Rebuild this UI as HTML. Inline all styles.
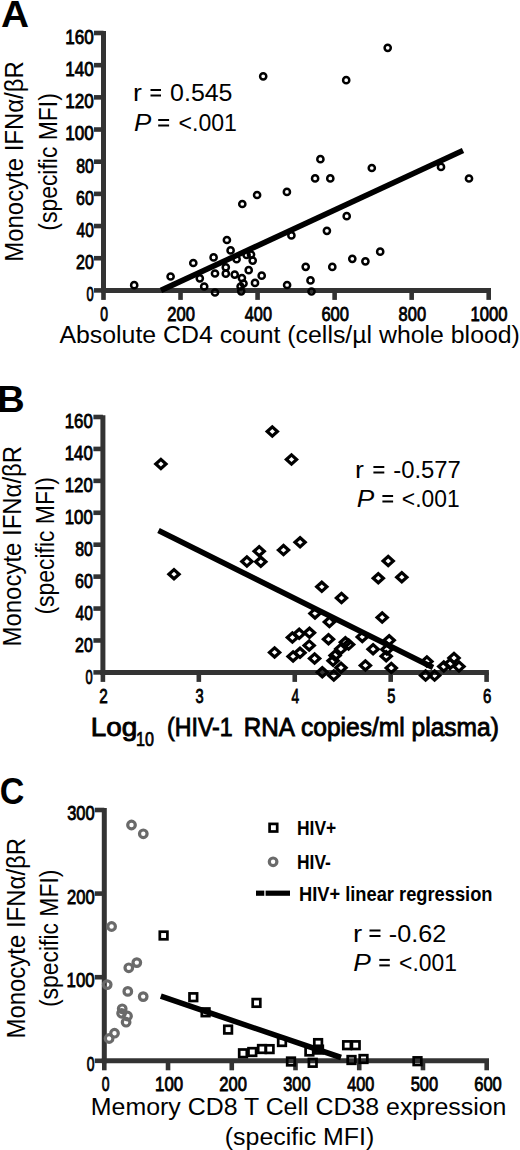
<!DOCTYPE html>
<html><head><meta charset="utf-8"><style>
html,body{margin:0;padding:0;background:#fff;}
svg{display:block;font-family:"Liberation Sans",sans-serif;}
</style></head><body>
<svg width="520" height="1150" viewBox="0 0 520 1150">
<rect width="520" height="1150" fill="#fff"/>
<text x="1.03" y="26.50" font-size="37" font-weight="bold" textLength="28.03" lengthAdjust="spacingAndGlyphs" fill="#000">A</text>
<line x1="103.50" y1="31.00" x2="103.50" y2="292.90" stroke="#333" stroke-width="5" stroke-linecap="butt"/>
<line x1="101.00" y1="290.40" x2="491.00" y2="290.40" stroke="#333" stroke-width="5" stroke-linecap="butt"/>
<line x1="94.00" y1="290.40" x2="103.50" y2="290.40" stroke="#333" stroke-width="4.6" stroke-linecap="butt"/>
<line x1="94.00" y1="258.22" x2="103.50" y2="258.22" stroke="#333" stroke-width="4.6" stroke-linecap="butt"/>
<line x1="94.00" y1="226.05" x2="103.50" y2="226.05" stroke="#333" stroke-width="4.6" stroke-linecap="butt"/>
<line x1="94.00" y1="193.88" x2="103.50" y2="193.88" stroke="#333" stroke-width="4.6" stroke-linecap="butt"/>
<line x1="94.00" y1="161.70" x2="103.50" y2="161.70" stroke="#333" stroke-width="4.6" stroke-linecap="butt"/>
<line x1="94.00" y1="129.52" x2="103.50" y2="129.52" stroke="#333" stroke-width="4.6" stroke-linecap="butt"/>
<line x1="94.00" y1="97.35" x2="103.50" y2="97.35" stroke="#333" stroke-width="4.6" stroke-linecap="butt"/>
<line x1="94.00" y1="65.18" x2="103.50" y2="65.18" stroke="#333" stroke-width="4.6" stroke-linecap="butt"/>
<line x1="94.00" y1="33.00" x2="103.50" y2="33.00" stroke="#333" stroke-width="4.6" stroke-linecap="butt"/>
<line x1="103.50" y1="290.40" x2="103.50" y2="299.90" stroke="#333" stroke-width="4.6" stroke-linecap="butt"/>
<line x1="180.54" y1="290.40" x2="180.54" y2="299.90" stroke="#333" stroke-width="4.6" stroke-linecap="butt"/>
<line x1="257.58" y1="290.40" x2="257.58" y2="299.90" stroke="#333" stroke-width="4.6" stroke-linecap="butt"/>
<line x1="334.62" y1="290.40" x2="334.62" y2="299.90" stroke="#333" stroke-width="4.6" stroke-linecap="butt"/>
<line x1="411.66" y1="290.40" x2="411.66" y2="299.90" stroke="#333" stroke-width="4.6" stroke-linecap="butt"/>
<line x1="488.70" y1="290.40" x2="488.70" y2="299.90" stroke="#333" stroke-width="4.6" stroke-linecap="butt"/>
<text x="86.51" y="301.20" font-size="20.5" stroke="#000" stroke-width="0.85" textLength="7.16" lengthAdjust="spacingAndGlyphs" fill="#000">0</text>
<text x="76.03" y="269.02" font-size="20.5" stroke="#000" stroke-width="0.85" textLength="17.79" lengthAdjust="spacingAndGlyphs" fill="#000">20</text>
<text x="76.47" y="236.85" font-size="20.5" stroke="#000" stroke-width="0.85" textLength="17.32" lengthAdjust="spacingAndGlyphs" fill="#000">40</text>
<text x="76.03" y="204.67" font-size="20.5" stroke="#000" stroke-width="0.85" textLength="17.79" lengthAdjust="spacingAndGlyphs" fill="#000">60</text>
<text x="76.15" y="172.50" font-size="20.5" stroke="#000" stroke-width="0.85" textLength="17.66" lengthAdjust="spacingAndGlyphs" fill="#000">80</text>
<text x="65.34" y="140.32" font-size="20.5" stroke="#000" stroke-width="0.85" textLength="28.49" lengthAdjust="spacingAndGlyphs" fill="#000">100</text>
<text x="65.34" y="108.15" font-size="20.5" stroke="#000" stroke-width="0.85" textLength="28.49" lengthAdjust="spacingAndGlyphs" fill="#000">120</text>
<text x="65.34" y="75.98" font-size="20.5" stroke="#000" stroke-width="0.85" textLength="28.49" lengthAdjust="spacingAndGlyphs" fill="#000">140</text>
<text x="65.34" y="43.80" font-size="20.5" stroke="#000" stroke-width="0.85" textLength="28.49" lengthAdjust="spacingAndGlyphs" fill="#000">160</text>
<text x="100.32" y="321.00" font-size="20.5" stroke="#000" stroke-width="0.85" textLength="7.75" lengthAdjust="spacingAndGlyphs" fill="#000">0</text>
<text x="167.34" y="321.00" font-size="20.5" stroke="#000" stroke-width="0.85" textLength="27.61" lengthAdjust="spacingAndGlyphs" fill="#000">200</text>
<text x="244.84" y="321.00" font-size="20.5" stroke="#000" stroke-width="0.85" textLength="27.14" lengthAdjust="spacingAndGlyphs" fill="#000">400</text>
<text x="321.42" y="321.00" font-size="20.5" stroke="#000" stroke-width="0.85" textLength="27.61" lengthAdjust="spacingAndGlyphs" fill="#000">600</text>
<text x="398.58" y="321.00" font-size="20.5" stroke="#000" stroke-width="0.85" textLength="27.48" lengthAdjust="spacingAndGlyphs" fill="#000">800</text>
<text x="470.58" y="321.00" font-size="20.5" stroke="#000" stroke-width="0.85" textLength="37.06" lengthAdjust="spacingAndGlyphs" fill="#000">1000</text>
<text x="59.44" y="342.80" font-size="24.6" textLength="460.43" lengthAdjust="spacingAndGlyphs" fill="#000">Absolute CD4 count (cells/µl whole blood)</text>
<text transform="translate(23.10,259.80) rotate(-90)" x="-1.98" y="0" font-size="26" textLength="200.62" lengthAdjust="spacingAndGlyphs">Monocyte IFNα/βR</text>
<text transform="translate(56.60,229.30) rotate(-90)" x="-1.43" y="0" font-size="26" textLength="137.57" lengthAdjust="spacingAndGlyphs">(specific MFI)</text>
<text x="132.99" y="101.00" font-size="24" textLength="8.92" lengthAdjust="spacingAndGlyphs" fill="#000">r</text>
<rect x="150.50" y="89.00" width="10.50" height="2" fill="#000"/>
<rect x="150.50" y="94.50" width="10.50" height="2" fill="#000"/>
<text x="170.10" y="101.00" font-size="24" textLength="62.40" lengthAdjust="spacingAndGlyphs" fill="#000">0.545</text>
<text x="133.92" y="131.00" font-size="24" font-style="italic" textLength="17.26" lengthAdjust="spacingAndGlyphs" fill="#000">P</text>
<rect x="158.20" y="119.00" width="10.90" height="2" fill="#000"/>
<rect x="158.20" y="124.50" width="10.90" height="2" fill="#000"/>
<text x="178.55" y="131.00" font-size="24" textLength="58.36" lengthAdjust="spacingAndGlyphs" fill="#000">&lt;.001</text>
<line x1="161.00" y1="290.40" x2="463.00" y2="150.50" stroke="#000" stroke-width="5.6" stroke-linecap="butt"/>
<circle cx="134.2" cy="285.2" r="3.1" fill="none" stroke="#000" stroke-width="2.5"/>
<circle cx="170.6" cy="276.5" r="3.1" fill="none" stroke="#000" stroke-width="2.5"/>
<circle cx="193.3" cy="263.0" r="3.1" fill="none" stroke="#000" stroke-width="2.5"/>
<circle cx="199.8" cy="278.3" r="3.1" fill="none" stroke="#000" stroke-width="2.5"/>
<circle cx="204.2" cy="286.5" r="3.1" fill="none" stroke="#000" stroke-width="2.5"/>
<circle cx="215" cy="292.5" r="3.1" fill="none" stroke="#000" stroke-width="2.5"/>
<circle cx="213.6" cy="257.4" r="3.1" fill="none" stroke="#000" stroke-width="2.5"/>
<circle cx="215" cy="273.5" r="3.1" fill="none" stroke="#000" stroke-width="2.5"/>
<circle cx="226.9" cy="240.0" r="3.1" fill="none" stroke="#000" stroke-width="2.5"/>
<circle cx="230.6" cy="250.4" r="3.1" fill="none" stroke="#000" stroke-width="2.5"/>
<circle cx="225.8" cy="267.3" r="3.1" fill="none" stroke="#000" stroke-width="2.5"/>
<circle cx="225.8" cy="273.7" r="3.1" fill="none" stroke="#000" stroke-width="2.5"/>
<circle cx="234.7" cy="274.6" r="3.1" fill="none" stroke="#000" stroke-width="2.5"/>
<circle cx="236.6" cy="259.2" r="3.1" fill="none" stroke="#000" stroke-width="2.5"/>
<circle cx="246.6" cy="255.0" r="3.1" fill="none" stroke="#000" stroke-width="2.5"/>
<circle cx="251" cy="254.5" r="3.1" fill="none" stroke="#000" stroke-width="2.5"/>
<circle cx="252.7" cy="260.6" r="3.1" fill="none" stroke="#000" stroke-width="2.5"/>
<circle cx="248.7" cy="270.2" r="3.1" fill="none" stroke="#000" stroke-width="2.5"/>
<circle cx="241.9" cy="278.1" r="3.1" fill="none" stroke="#000" stroke-width="2.5"/>
<circle cx="243.5" cy="283.5" r="3.1" fill="none" stroke="#000" stroke-width="2.5"/>
<circle cx="240.6" cy="286.5" r="3.1" fill="none" stroke="#000" stroke-width="2.5"/>
<circle cx="241.2" cy="291.3" r="3.1" fill="none" stroke="#000" stroke-width="2.5"/>
<circle cx="255" cy="282.9" r="3.1" fill="none" stroke="#000" stroke-width="2.5"/>
<circle cx="261.7" cy="275.7" r="3.1" fill="none" stroke="#000" stroke-width="2.5"/>
<circle cx="242.3" cy="204" r="3.1" fill="none" stroke="#000" stroke-width="2.5"/>
<circle cx="257.1" cy="195" r="3.1" fill="none" stroke="#000" stroke-width="2.5"/>
<circle cx="286.9" cy="191.9" r="3.1" fill="none" stroke="#000" stroke-width="2.5"/>
<circle cx="291.4" cy="235.4" r="3.1" fill="none" stroke="#000" stroke-width="2.5"/>
<circle cx="287.1" cy="285" r="3.1" fill="none" stroke="#000" stroke-width="2.5"/>
<circle cx="305.7" cy="266.8" r="3.1" fill="none" stroke="#000" stroke-width="2.5"/>
<circle cx="310.5" cy="280.4" r="3.1" fill="none" stroke="#000" stroke-width="2.5"/>
<circle cx="311.5" cy="291.5" r="3.1" fill="none" stroke="#000" stroke-width="2.5"/>
<circle cx="332.3" cy="266.9" r="3.1" fill="none" stroke="#000" stroke-width="2.5"/>
<circle cx="326.9" cy="230.8" r="3.1" fill="none" stroke="#000" stroke-width="2.5"/>
<circle cx="346.7" cy="216.2" r="3.1" fill="none" stroke="#000" stroke-width="2.5"/>
<circle cx="352.3" cy="258.8" r="3.1" fill="none" stroke="#000" stroke-width="2.5"/>
<circle cx="365.4" cy="261.3" r="3.1" fill="none" stroke="#000" stroke-width="2.5"/>
<circle cx="380.2" cy="251.7" r="3.1" fill="none" stroke="#000" stroke-width="2.5"/>
<circle cx="315.1" cy="178.4" r="3.1" fill="none" stroke="#000" stroke-width="2.5"/>
<circle cx="330.3" cy="178.4" r="3.1" fill="none" stroke="#000" stroke-width="2.5"/>
<circle cx="320.4" cy="159.2" r="3.1" fill="none" stroke="#000" stroke-width="2.5"/>
<circle cx="371.8" cy="168" r="3.1" fill="none" stroke="#000" stroke-width="2.5"/>
<circle cx="441" cy="166.9" r="3.1" fill="none" stroke="#000" stroke-width="2.5"/>
<circle cx="469" cy="178.5" r="3.1" fill="none" stroke="#000" stroke-width="2.5"/>
<circle cx="263.2" cy="76.3" r="3.1" fill="none" stroke="#000" stroke-width="2.5"/>
<circle cx="346.2" cy="80.2" r="3.1" fill="none" stroke="#000" stroke-width="2.5"/>
<circle cx="387.7" cy="47.8" r="3.1" fill="none" stroke="#000" stroke-width="2.5"/>
<text x="-2.99" y="412.30" font-size="37" font-weight="bold" textLength="27.70" lengthAdjust="spacingAndGlyphs" fill="#000">B</text>
<line x1="102.90" y1="415.30" x2="102.90" y2="674.90" stroke="#333" stroke-width="5" stroke-linecap="butt"/>
<line x1="100.40" y1="672.40" x2="488.90" y2="672.40" stroke="#333" stroke-width="5" stroke-linecap="butt"/>
<line x1="93.40" y1="672.40" x2="102.90" y2="672.40" stroke="#333" stroke-width="4.6" stroke-linecap="butt"/>
<line x1="93.40" y1="640.48" x2="102.90" y2="640.48" stroke="#333" stroke-width="4.6" stroke-linecap="butt"/>
<line x1="93.40" y1="608.55" x2="102.90" y2="608.55" stroke="#333" stroke-width="4.6" stroke-linecap="butt"/>
<line x1="93.40" y1="576.62" x2="102.90" y2="576.62" stroke="#333" stroke-width="4.6" stroke-linecap="butt"/>
<line x1="93.40" y1="544.70" x2="102.90" y2="544.70" stroke="#333" stroke-width="4.6" stroke-linecap="butt"/>
<line x1="93.40" y1="512.77" x2="102.90" y2="512.77" stroke="#333" stroke-width="4.6" stroke-linecap="butt"/>
<line x1="93.40" y1="480.85" x2="102.90" y2="480.85" stroke="#333" stroke-width="4.6" stroke-linecap="butt"/>
<line x1="93.40" y1="448.93" x2="102.90" y2="448.93" stroke="#333" stroke-width="4.6" stroke-linecap="butt"/>
<line x1="93.40" y1="417.00" x2="102.90" y2="417.00" stroke="#333" stroke-width="4.6" stroke-linecap="butt"/>
<line x1="102.90" y1="672.40" x2="102.90" y2="681.90" stroke="#333" stroke-width="4.6" stroke-linecap="butt"/>
<line x1="198.83" y1="672.40" x2="198.83" y2="681.90" stroke="#333" stroke-width="4.6" stroke-linecap="butt"/>
<line x1="294.75" y1="672.40" x2="294.75" y2="681.90" stroke="#333" stroke-width="4.6" stroke-linecap="butt"/>
<line x1="390.68" y1="672.40" x2="390.68" y2="681.90" stroke="#333" stroke-width="4.6" stroke-linecap="butt"/>
<line x1="486.60" y1="672.40" x2="486.60" y2="681.90" stroke="#333" stroke-width="4.6" stroke-linecap="butt"/>
<text x="85.51" y="683.70" font-size="20.5" stroke="#000" stroke-width="0.85" textLength="7.16" lengthAdjust="spacingAndGlyphs" fill="#000">0</text>
<text x="75.03" y="651.78" font-size="20.5" stroke="#000" stroke-width="0.85" textLength="17.79" lengthAdjust="spacingAndGlyphs" fill="#000">20</text>
<text x="75.47" y="619.85" font-size="20.5" stroke="#000" stroke-width="0.85" textLength="17.32" lengthAdjust="spacingAndGlyphs" fill="#000">40</text>
<text x="75.03" y="587.93" font-size="20.5" stroke="#000" stroke-width="0.85" textLength="17.79" lengthAdjust="spacingAndGlyphs" fill="#000">60</text>
<text x="75.15" y="556.00" font-size="20.5" stroke="#000" stroke-width="0.85" textLength="17.66" lengthAdjust="spacingAndGlyphs" fill="#000">80</text>
<text x="64.76" y="524.08" font-size="20.5" stroke="#000" stroke-width="0.85" textLength="28.06" lengthAdjust="spacingAndGlyphs" fill="#000">100</text>
<text x="64.76" y="492.15" font-size="20.5" stroke="#000" stroke-width="0.85" textLength="28.06" lengthAdjust="spacingAndGlyphs" fill="#000">120</text>
<text x="64.76" y="460.23" font-size="20.5" stroke="#000" stroke-width="0.85" textLength="28.06" lengthAdjust="spacingAndGlyphs" fill="#000">140</text>
<text x="64.76" y="428.30" font-size="20.5" stroke="#000" stroke-width="0.85" textLength="28.06" lengthAdjust="spacingAndGlyphs" fill="#000">160</text>
<text x="99.26" y="702.60" font-size="20.5" stroke="#000" stroke-width="0.85" textLength="8.50" lengthAdjust="spacingAndGlyphs" fill="#000">2</text>
<text x="195.40" y="702.60" font-size="20.5" stroke="#000" stroke-width="0.85" textLength="8.14" lengthAdjust="spacingAndGlyphs" fill="#000">3</text>
<text x="291.57" y="702.60" font-size="20.5" stroke="#000" stroke-width="0.85" textLength="7.65" lengthAdjust="spacingAndGlyphs" fill="#000">4</text>
<text x="387.21" y="702.60" font-size="20.5" stroke="#000" stroke-width="0.85" textLength="8.14" lengthAdjust="spacingAndGlyphs" fill="#000">5</text>
<text x="482.97" y="702.60" font-size="20.5" stroke="#000" stroke-width="0.85" textLength="8.36" lengthAdjust="spacingAndGlyphs" fill="#000">6</text>
<text x="90.82" y="736.30" font-size="25.5" stroke="#000" stroke-width="0.85" textLength="46.52" lengthAdjust="spacingAndGlyphs" fill="#000">Log</text>
<text x="135.94" y="746.20" font-size="19.5" stroke="#000" stroke-width="0.7" textLength="17.95" lengthAdjust="spacingAndGlyphs" fill="#000">10</text>
<text x="166.98" y="736.40" font-size="25.5" stroke="#000" stroke-width="0.85" textLength="65.74" lengthAdjust="spacingAndGlyphs" fill="#000">(HIV-1</text>
<text x="243.63" y="736.40" font-size="25.5" stroke="#000" stroke-width="0.85" textLength="51.18" lengthAdjust="spacingAndGlyphs" fill="#000">RNA</text>
<text x="300.98" y="736.40" font-size="25.5" stroke="#000" stroke-width="0.85" textLength="197.95" lengthAdjust="spacingAndGlyphs" fill="#000">copies/ml plasma)</text>
<text transform="translate(20.60,644.50) rotate(-90)" x="-1.98" y="0" font-size="26" textLength="200.62" lengthAdjust="spacingAndGlyphs">Monocyte IFNα/βR</text>
<text transform="translate(53.90,613.10) rotate(-90)" x="-1.43" y="0" font-size="26" textLength="137.37" lengthAdjust="spacingAndGlyphs">(specific MFI)</text>
<text x="355.09" y="478.00" font-size="24" textLength="8.92" lengthAdjust="spacingAndGlyphs" fill="#000">r</text>
<rect x="373.40" y="466.00" width="10.90" height="2" fill="#000"/>
<rect x="373.40" y="471.50" width="10.90" height="2" fill="#000"/>
<text x="393.23" y="478.00" font-size="24" textLength="67.58" lengthAdjust="spacingAndGlyphs" fill="#000">-0.577</text>
<text x="356.71" y="507.00" font-size="24" font-style="italic" textLength="17.47" lengthAdjust="spacingAndGlyphs" fill="#000">P</text>
<rect x="382.40" y="495.00" width="10.70" height="2" fill="#000"/>
<rect x="382.40" y="500.50" width="10.70" height="2" fill="#000"/>
<text x="401.86" y="507.00" font-size="24" textLength="57.73" lengthAdjust="spacingAndGlyphs" fill="#000">&lt;.001</text>
<line x1="158.50" y1="530.50" x2="433.00" y2="667.50" stroke="#000" stroke-width="5.6" stroke-linecap="butt"/>
<path d="M155.80 464L160.9 459.40L166.00 464L160.9 468.60Z" fill="none" stroke="#000" stroke-width="3.2" stroke-linejoin="miter"/>
<path d="M267.20 431.5L272.3 426.90L277.40 431.5L272.3 436.10Z" fill="none" stroke="#000" stroke-width="3.2" stroke-linejoin="miter"/>
<path d="M286.40 459.5L291.5 454.90L296.60 459.5L291.5 464.10Z" fill="none" stroke="#000" stroke-width="3.2" stroke-linejoin="miter"/>
<path d="M168.90 574.2L174 569.60L179.10 574.2L174 578.80Z" fill="none" stroke="#000" stroke-width="3.2" stroke-linejoin="miter"/>
<path d="M241.80 561.5L246.9 556.90L252.00 561.5L246.9 566.10Z" fill="none" stroke="#000" stroke-width="3.2" stroke-linejoin="miter"/>
<path d="M254.10 551.2L259.2 546.60L264.30 551.2L259.2 555.80Z" fill="none" stroke="#000" stroke-width="3.2" stroke-linejoin="miter"/>
<path d="M255.70 561.8L260.8 557.20L265.90 561.8L260.8 566.40Z" fill="none" stroke="#000" stroke-width="3.2" stroke-linejoin="miter"/>
<path d="M278.40 550.1L283.5 545.50L288.60 550.1L283.5 554.70Z" fill="none" stroke="#000" stroke-width="3.2" stroke-linejoin="miter"/>
<path d="M295.00 542.3L300.1 537.70L305.20 542.3L300.1 546.90Z" fill="none" stroke="#000" stroke-width="3.2" stroke-linejoin="miter"/>
<path d="M316.70 586.8L321.8 582.20L326.90 586.8L321.8 591.40Z" fill="none" stroke="#000" stroke-width="3.2" stroke-linejoin="miter"/>
<path d="M336.40 598L341.5 593.40L346.60 598L341.5 602.60Z" fill="none" stroke="#000" stroke-width="3.2" stroke-linejoin="miter"/>
<path d="M383.10 561L388.2 556.40L393.30 561L388.2 565.60Z" fill="none" stroke="#000" stroke-width="3.2" stroke-linejoin="miter"/>
<path d="M373.20 578.2L378.3 573.60L383.40 578.2L378.3 582.80Z" fill="none" stroke="#000" stroke-width="3.2" stroke-linejoin="miter"/>
<path d="M396.70 577.2L401.8 572.60L406.90 577.2L401.8 581.80Z" fill="none" stroke="#000" stroke-width="3.2" stroke-linejoin="miter"/>
<path d="M309.90 613.4L315 608.80L320.10 613.4L315 618.00Z" fill="none" stroke="#000" stroke-width="3.2" stroke-linejoin="miter"/>
<path d="M324.30 622L329.4 617.40L334.50 622L329.4 626.60Z" fill="none" stroke="#000" stroke-width="3.2" stroke-linejoin="miter"/>
<path d="M287.30 637.5L292.4 632.90L297.50 637.5L292.4 642.10Z" fill="none" stroke="#000" stroke-width="3.2" stroke-linejoin="miter"/>
<path d="M294.10 633.8L299.2 629.20L304.30 633.8L299.2 638.40Z" fill="none" stroke="#000" stroke-width="3.2" stroke-linejoin="miter"/>
<path d="M304.40 632.8L309.5 628.20L314.60 632.8L309.5 637.40Z" fill="none" stroke="#000" stroke-width="3.2" stroke-linejoin="miter"/>
<path d="M304.10 645.4L309.2 640.80L314.30 645.4L309.2 650.00Z" fill="none" stroke="#000" stroke-width="3.2" stroke-linejoin="miter"/>
<path d="M288.00 656.4L293.1 651.80L298.20 656.4L293.1 661.00Z" fill="none" stroke="#000" stroke-width="3.2" stroke-linejoin="miter"/>
<path d="M294.90 652.8L300 648.20L305.10 652.8L300 657.40Z" fill="none" stroke="#000" stroke-width="3.2" stroke-linejoin="miter"/>
<path d="M309.50 658.5L314.6 653.90L319.70 658.5L314.6 663.10Z" fill="none" stroke="#000" stroke-width="3.2" stroke-linejoin="miter"/>
<path d="M323.40 639.2L328.5 634.60L333.60 639.2L328.5 643.80Z" fill="none" stroke="#000" stroke-width="3.2" stroke-linejoin="miter"/>
<path d="M340.30 642.3L345.4 637.70L350.50 642.3L345.4 646.90Z" fill="none" stroke="#000" stroke-width="3.2" stroke-linejoin="miter"/>
<path d="M343.50 644.6L348.6 640.00L353.70 644.6L348.6 649.20Z" fill="none" stroke="#000" stroke-width="3.2" stroke-linejoin="miter"/>
<path d="M335.70 649L340.8 644.40L345.90 649L340.8 653.60Z" fill="none" stroke="#000" stroke-width="3.2" stroke-linejoin="miter"/>
<path d="M330.00 655.4L335.1 650.80L340.20 655.4L335.1 660.00Z" fill="none" stroke="#000" stroke-width="3.2" stroke-linejoin="miter"/>
<path d="M328.00 660.8L333.1 656.20L338.20 660.8L333.1 665.40Z" fill="none" stroke="#000" stroke-width="3.2" stroke-linejoin="miter"/>
<path d="M335.90 667.7L341 663.10L346.10 667.7L341 672.30Z" fill="none" stroke="#000" stroke-width="3.2" stroke-linejoin="miter"/>
<path d="M317.20 672.3L322.3 667.70L327.40 672.3L322.3 676.90Z" fill="none" stroke="#000" stroke-width="3.2" stroke-linejoin="miter"/>
<path d="M328.70 675.4L333.8 670.80L338.90 675.4L333.8 680.00Z" fill="none" stroke="#000" stroke-width="3.2" stroke-linejoin="miter"/>
<path d="M269.50 652.4L274.6 647.80L279.70 652.4L274.6 657.00Z" fill="none" stroke="#000" stroke-width="3.2" stroke-linejoin="miter"/>
<path d="M377.10 617.5L382.2 612.90L387.30 617.5L382.2 622.10Z" fill="none" stroke="#000" stroke-width="3.2" stroke-linejoin="miter"/>
<path d="M357.20 636.9L362.3 632.30L367.40 636.9L362.3 641.50Z" fill="none" stroke="#000" stroke-width="3.2" stroke-linejoin="miter"/>
<path d="M368.00 649.2L373.1 644.60L378.20 649.2L373.1 653.80Z" fill="none" stroke="#000" stroke-width="3.2" stroke-linejoin="miter"/>
<path d="M384.10 640.3L389.2 635.70L394.30 640.3L389.2 644.90Z" fill="none" stroke="#000" stroke-width="3.2" stroke-linejoin="miter"/>
<path d="M381.80 649.5L386.9 644.90L392.00 649.5L386.9 654.10Z" fill="none" stroke="#000" stroke-width="3.2" stroke-linejoin="miter"/>
<path d="M381.10 656.2L386.2 651.60L391.30 656.2L386.2 660.80Z" fill="none" stroke="#000" stroke-width="3.2" stroke-linejoin="miter"/>
<path d="M360.30 665.4L365.4 660.80L370.50 665.4L365.4 670.00Z" fill="none" stroke="#000" stroke-width="3.2" stroke-linejoin="miter"/>
<path d="M386.20 668L391.3 663.40L396.40 668L391.3 672.60Z" fill="none" stroke="#000" stroke-width="3.2" stroke-linejoin="miter"/>
<path d="M421.80 661.5L426.9 656.90L432.00 661.5L426.9 666.10Z" fill="none" stroke="#000" stroke-width="3.2" stroke-linejoin="miter"/>
<path d="M420.50 675.5L425.6 670.90L430.70 675.5L425.6 680.10Z" fill="none" stroke="#000" stroke-width="3.2" stroke-linejoin="miter"/>
<path d="M429.50 675.5L434.6 670.90L439.70 675.5L434.6 680.10Z" fill="none" stroke="#000" stroke-width="3.2" stroke-linejoin="miter"/>
<path d="M438.70 666.5L443.8 661.90L448.90 666.5L443.8 671.10Z" fill="none" stroke="#000" stroke-width="3.2" stroke-linejoin="miter"/>
<path d="M444.90 664L450 659.40L455.10 664L450 668.60Z" fill="none" stroke="#000" stroke-width="3.2" stroke-linejoin="miter"/>
<path d="M448.90 658L454 653.40L459.10 658L454 662.60Z" fill="none" stroke="#000" stroke-width="3.2" stroke-linejoin="miter"/>
<path d="M453.90 666.5L459 661.90L464.10 666.5L459 671.10Z" fill="none" stroke="#000" stroke-width="3.2" stroke-linejoin="miter"/>
<text x="-0.16" y="803.60" font-size="37" font-weight="bold" textLength="24.59" lengthAdjust="spacingAndGlyphs" fill="#000">C</text>
<line x1="104.30" y1="808.00" x2="104.30" y2="1063.30" stroke="#333" stroke-width="5" stroke-linecap="butt"/>
<line x1="101.80" y1="1060.80" x2="489.00" y2="1060.80" stroke="#333" stroke-width="5" stroke-linecap="butt"/>
<line x1="94.80" y1="1060.80" x2="104.30" y2="1060.80" stroke="#333" stroke-width="4.6" stroke-linecap="butt"/>
<line x1="94.80" y1="977.20" x2="104.30" y2="977.20" stroke="#333" stroke-width="4.6" stroke-linecap="butt"/>
<line x1="94.80" y1="893.60" x2="104.30" y2="893.60" stroke="#333" stroke-width="4.6" stroke-linecap="butt"/>
<line x1="94.80" y1="810.00" x2="104.30" y2="810.00" stroke="#333" stroke-width="4.6" stroke-linecap="butt"/>
<line x1="104.30" y1="1060.80" x2="104.30" y2="1070.30" stroke="#333" stroke-width="4.6" stroke-linecap="butt"/>
<line x1="168.03" y1="1060.80" x2="168.03" y2="1070.30" stroke="#333" stroke-width="4.6" stroke-linecap="butt"/>
<line x1="231.77" y1="1060.80" x2="231.77" y2="1070.30" stroke="#333" stroke-width="4.6" stroke-linecap="butt"/>
<line x1="295.50" y1="1060.80" x2="295.50" y2="1070.30" stroke="#333" stroke-width="4.6" stroke-linecap="butt"/>
<line x1="359.23" y1="1060.80" x2="359.23" y2="1070.30" stroke="#333" stroke-width="4.6" stroke-linecap="butt"/>
<line x1="422.97" y1="1060.80" x2="422.97" y2="1070.30" stroke="#333" stroke-width="4.6" stroke-linecap="butt"/>
<line x1="486.70" y1="1060.80" x2="486.70" y2="1070.30" stroke="#333" stroke-width="4.6" stroke-linecap="butt"/>
<text x="86.77" y="1070.90" font-size="20.5" stroke="#000" stroke-width="0.85" textLength="7.75" lengthAdjust="spacingAndGlyphs" fill="#000">0</text>
<text x="66.56" y="987.30" font-size="20.5" stroke="#000" stroke-width="0.85" textLength="28.06" lengthAdjust="spacingAndGlyphs" fill="#000">100</text>
<text x="67.00" y="903.70" font-size="20.5" stroke="#000" stroke-width="0.85" textLength="27.61" lengthAdjust="spacingAndGlyphs" fill="#000">200</text>
<text x="67.21" y="820.10" font-size="20.5" stroke="#000" stroke-width="0.85" textLength="27.40" lengthAdjust="spacingAndGlyphs" fill="#000">300</text>
<text x="101.82" y="1090.50" font-size="20.5" stroke="#000" stroke-width="0.85" textLength="7.75" lengthAdjust="spacingAndGlyphs" fill="#000">0</text>
<text x="155.10" y="1090.50" font-size="20.5" stroke="#000" stroke-width="0.85" textLength="28.06" lengthAdjust="spacingAndGlyphs" fill="#000">100</text>
<text x="219.26" y="1090.50" font-size="20.5" stroke="#000" stroke-width="0.85" textLength="27.61" lengthAdjust="spacingAndGlyphs" fill="#000">200</text>
<text x="283.21" y="1090.50" font-size="20.5" stroke="#000" stroke-width="0.85" textLength="27.40" lengthAdjust="spacingAndGlyphs" fill="#000">300</text>
<text x="347.19" y="1090.50" font-size="20.5" stroke="#000" stroke-width="0.85" textLength="27.14" lengthAdjust="spacingAndGlyphs" fill="#000">400</text>
<text x="410.63" y="1090.50" font-size="20.5" stroke="#000" stroke-width="0.85" textLength="27.44" lengthAdjust="spacingAndGlyphs" fill="#000">500</text>
<text x="474.20" y="1090.50" font-size="20.5" stroke="#000" stroke-width="0.85" textLength="27.61" lengthAdjust="spacingAndGlyphs" fill="#000">600</text>
<text x="90.85" y="1114.60" font-size="24.6" textLength="415.61" lengthAdjust="spacingAndGlyphs" fill="#000">Memory CD8 T Cell CD38 expression</text>
<text x="224.84" y="1144.60" font-size="24.6" textLength="149.42" lengthAdjust="spacingAndGlyphs" fill="#000">(specific MFI)</text>
<text transform="translate(24.50,1036.60) rotate(-90)" x="-1.98" y="0" font-size="26" textLength="200.72" lengthAdjust="spacingAndGlyphs">Monocyte IFNα/βR</text>
<text transform="translate(58.10,1005.70) rotate(-90)" x="-1.43" y="0" font-size="26" textLength="137.57" lengthAdjust="spacingAndGlyphs">(specific MFI)</text>
<text x="352.94" y="941.50" font-size="24" textLength="9.19" lengthAdjust="spacingAndGlyphs" fill="#000">r</text>
<rect x="369.50" y="929.50" width="11.00" height="2" fill="#000"/>
<rect x="369.50" y="935.00" width="11.00" height="2" fill="#000"/>
<text x="388.87" y="941.50" font-size="24" textLength="57.44" lengthAdjust="spacingAndGlyphs" fill="#000">-0.62</text>
<text x="353.21" y="970.90" font-size="24" font-style="italic" textLength="17.57" lengthAdjust="spacingAndGlyphs" fill="#000">P</text>
<rect x="379.30" y="958.90" width="10.50" height="2" fill="#000"/>
<rect x="379.30" y="964.40" width="10.50" height="2" fill="#000"/>
<text x="399.06" y="970.90" font-size="24" textLength="57.84" lengthAdjust="spacingAndGlyphs" fill="#000">&lt;.001</text>
<rect x="269.60" y="823.90" width="7.60" height="7.60" fill="none" stroke="#000" stroke-width="2.7"/>
<text x="297.02" y="835.40" font-size="19.5" font-weight="bold" textLength="39.29" lengthAdjust="spacingAndGlyphs" fill="#000">HIV+</text>
<circle cx="273.1" cy="861.8" r="3.8" fill="none" stroke="#6a6a6a" stroke-width="3.2"/>
<text x="297.02" y="868.80" font-size="19.5" font-weight="bold" textLength="33.87" lengthAdjust="spacingAndGlyphs" fill="#000">HIV-</text>
<line x1="256.00" y1="893.20" x2="264.30" y2="893.20" stroke="#000" stroke-width="5.2" stroke-linecap="butt"/>
<line x1="265.60" y1="893.20" x2="290.00" y2="893.20" stroke="#000" stroke-width="5.2" stroke-linecap="butt"/>
<text x="298.97" y="900.80" font-size="19.5" font-weight="bold" textLength="193.54" lengthAdjust="spacingAndGlyphs" fill="#000">HIV+ linear regression</text>
<circle cx="131.5" cy="825" r="3.8" fill="none" stroke="#6a6a6a" stroke-width="3.2"/>
<circle cx="143.3" cy="833.8" r="3.8" fill="none" stroke="#6a6a6a" stroke-width="3.2"/>
<circle cx="111.6" cy="926.5" r="3.8" fill="none" stroke="#6a6a6a" stroke-width="3.2"/>
<circle cx="128.8" cy="967.8" r="3.8" fill="none" stroke="#6a6a6a" stroke-width="3.2"/>
<circle cx="136.8" cy="962.6" r="3.8" fill="none" stroke="#6a6a6a" stroke-width="3.2"/>
<circle cx="107.2" cy="984.6" r="3.8" fill="none" stroke="#6a6a6a" stroke-width="3.2"/>
<circle cx="127.8" cy="991.4" r="3.8" fill="none" stroke="#6a6a6a" stroke-width="3.2"/>
<circle cx="143.2" cy="996.6" r="3.8" fill="none" stroke="#6a6a6a" stroke-width="3.2"/>
<circle cx="122.2" cy="1008.8" r="3.8" fill="none" stroke="#6a6a6a" stroke-width="3.2"/>
<circle cx="121.6" cy="1013.3" r="3.8" fill="none" stroke="#6a6a6a" stroke-width="3.2"/>
<circle cx="127.5" cy="1016" r="3.8" fill="none" stroke="#6a6a6a" stroke-width="3.2"/>
<circle cx="126.1" cy="1022.2" r="3.8" fill="none" stroke="#6a6a6a" stroke-width="3.2"/>
<circle cx="114.5" cy="1033.2" r="3.8" fill="none" stroke="#6a6a6a" stroke-width="3.2"/>
<circle cx="109.1" cy="1038.5" r="3.8" fill="none" stroke="#6a6a6a" stroke-width="3.2"/>
<line x1="160.80" y1="996.20" x2="341.00" y2="1057.50" stroke="#000" stroke-width="5.6" stroke-linecap="butt"/>
<rect x="159.80" y="931.70" width="7.60" height="7.60" fill="none" stroke="#000" stroke-width="2.7"/>
<rect x="189.50" y="993.40" width="7.60" height="7.60" fill="none" stroke="#000" stroke-width="2.7"/>
<rect x="201.80" y="1008.50" width="7.60" height="7.60" fill="none" stroke="#000" stroke-width="2.7"/>
<rect x="224.30" y="1025.80" width="7.60" height="7.60" fill="none" stroke="#000" stroke-width="2.7"/>
<rect x="252.70" y="999.10" width="7.60" height="7.60" fill="none" stroke="#000" stroke-width="2.7"/>
<rect x="239.20" y="1049.50" width="7.60" height="7.60" fill="none" stroke="#000" stroke-width="2.7"/>
<rect x="248.50" y="1048.20" width="7.60" height="7.60" fill="none" stroke="#000" stroke-width="2.7"/>
<rect x="258.20" y="1045.20" width="7.60" height="7.60" fill="none" stroke="#000" stroke-width="2.7"/>
<rect x="265.80" y="1045.30" width="7.60" height="7.60" fill="none" stroke="#000" stroke-width="2.7"/>
<rect x="278.20" y="1038.20" width="7.60" height="7.60" fill="none" stroke="#000" stroke-width="2.7"/>
<rect x="287.20" y="1057.70" width="7.60" height="7.60" fill="none" stroke="#000" stroke-width="2.7"/>
<rect x="305.60" y="1047.70" width="7.60" height="7.60" fill="none" stroke="#000" stroke-width="2.7"/>
<rect x="314.30" y="1039.30" width="7.60" height="7.60" fill="none" stroke="#000" stroke-width="2.7"/>
<rect x="315.20" y="1045.80" width="7.60" height="7.60" fill="none" stroke="#000" stroke-width="2.7"/>
<rect x="308.90" y="1059.00" width="7.60" height="7.60" fill="none" stroke="#000" stroke-width="2.7"/>
<rect x="343.30" y="1041.40" width="7.60" height="7.60" fill="none" stroke="#000" stroke-width="2.7"/>
<rect x="351.90" y="1041.40" width="7.60" height="7.60" fill="none" stroke="#000" stroke-width="2.7"/>
<rect x="347.70" y="1056.20" width="7.60" height="7.60" fill="none" stroke="#000" stroke-width="2.7"/>
<rect x="359.70" y="1055.20" width="7.60" height="7.60" fill="none" stroke="#000" stroke-width="2.7"/>
<rect x="413.70" y="1057.40" width="7.60" height="7.60" fill="none" stroke="#000" stroke-width="2.7"/>
</svg>
</body></html>
